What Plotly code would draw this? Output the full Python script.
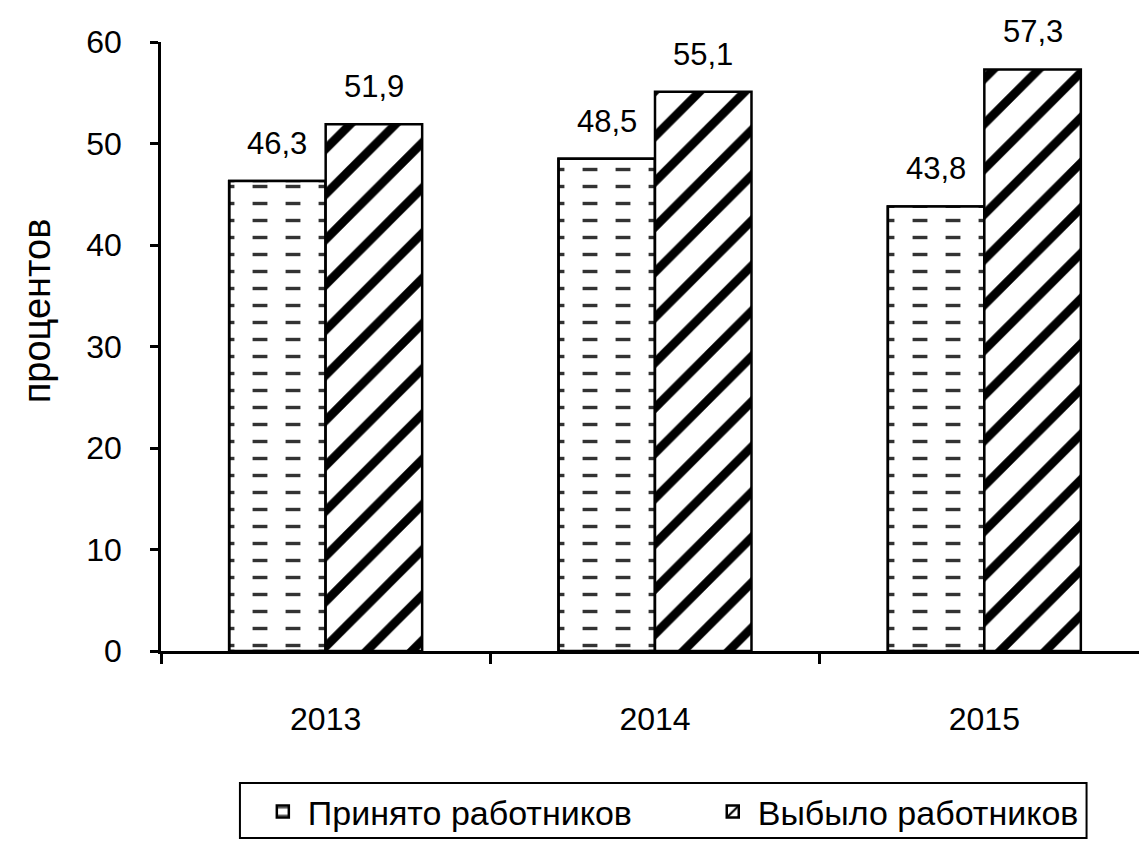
import plotly.graph_objects as go

years = ["2013", "2014", "2015"]
hired = [46.3, 48.5, 43.8]
retired = [51.9, 55.1, 57.3]
series_names = ["Принято работников", "Выбыло работников"]
y_ticks = [0, 10, 20, 30, 40, 50, 60]
y_title = "процентов"

FONT = "Liberation Sans, Arial, sans-serif"
BARGAP = 0.414
OUTLINE = dict(color="black", width=2.5)

fig = go.Figure()
# hired: horizontal lines ...
fig.add_trace(go.Bar(
    x=years, y=hired, name=series_names[0], offsetgroup="a", legend="legend",
    marker=dict(color="white", line=OUTLINE,
                pattern=dict(shape="-", fgcolor="#333333", bgcolor="white",
                             fgopacity=1, fillmode="replace", size=17, solidity=0.2)),
))
# ... broken into dashes by a white vertical-line overlay on the same bars
fig.add_trace(go.Bar(
    x=years, y=hired, name=series_names[0], offsetgroup="a", showlegend=False,
    hoverinfo="skip",
    marker=dict(color="rgba(0,0,0,0)", line=OUTLINE,
                pattern=dict(shape="|", fgcolor="white", bgcolor="rgba(0,0,0,0)",
                             fgopacity=1, fillmode="replace", size=33, solidity=0.55)),
))
fig.add_trace(go.Bar(
    x=years, y=retired, name=series_names[1], offsetgroup="b", legend="legend2",
    marker=dict(color="white", line=OUTLINE,
                pattern=dict(shape="/", fgcolor="black", bgcolor="white",
                             fgopacity=1, fillmode="replace", size=32, solidity=0.27)),
))

half = (1 - BARGAP) / 4
for i, (a, b) in enumerate(zip(hired, retired)):
    for off, v in ((-half, a), (half, b)):
        fig.add_annotation(x=i + off, y=v, xref="x", yref="y",
                           text=f"{v:.1f}".replace(".", ","), showarrow=False,
                           yanchor="bottom", yshift=18,
                           font=dict(family=FONT, size=31, color="black"))

fig.add_annotation(text=y_title, textangle=-90, xref="paper", yref="paper",
                   x=-0.1254, y=0.558, xanchor="center", yanchor="middle",
                   showarrow=False, font=dict(family=FONT, size=38, color="black"))

# frame around the two legend entries
fig.add_shape(type="rect", xref="paper", yref="paper",
              x0=0.0799, x1=0.9368, y0=-0.307, y1=-0.2167,
              line=dict(color="black", width=2), fillcolor="rgba(0,0,0,0)")

legend_common = dict(orientation="h", xanchor="left", y=-0.2167, yanchor="top",
                     borderwidth=0, bgcolor="rgba(0,0,0,0)",
                     font=dict(family=FONT, size=34, color="black"), itemwidth=40)

fig.update_layout(
    width=1147, height=841,
    margin=dict(l=153, r=6, t=34, b=198, autoexpand=False),
    paper_bgcolor="white", plot_bgcolor="white",
    barmode="group", bargap=BARGAP, bargroupgap=0,
    font=dict(family=FONT, size=32, color="black"),
    showlegend=True,
    legend=dict(x=0.098, **legend_common),
    legend2=dict(x=0.5534, **legend_common),
)
fig.update_yaxes(range=[0, 60], tickvals=y_ticks, showgrid=False, zeroline=False,
                 showline=True, linecolor="black", linewidth=2.5,
                 ticks="outside", ticklen=8, tickwidth=2.5, tickcolor="black",
                 ticklabelstandoff=22, automargin=False)
fig.update_xaxes(showgrid=False, showline=True, linecolor="black", linewidth=2.5,
                 ticks="outside", tickson="boundaries", ticklen=10, tickwidth=2.5,
                 tickcolor="black", ticklabelstandoff=38, automargin=False)

fig.write_html("out.html")
